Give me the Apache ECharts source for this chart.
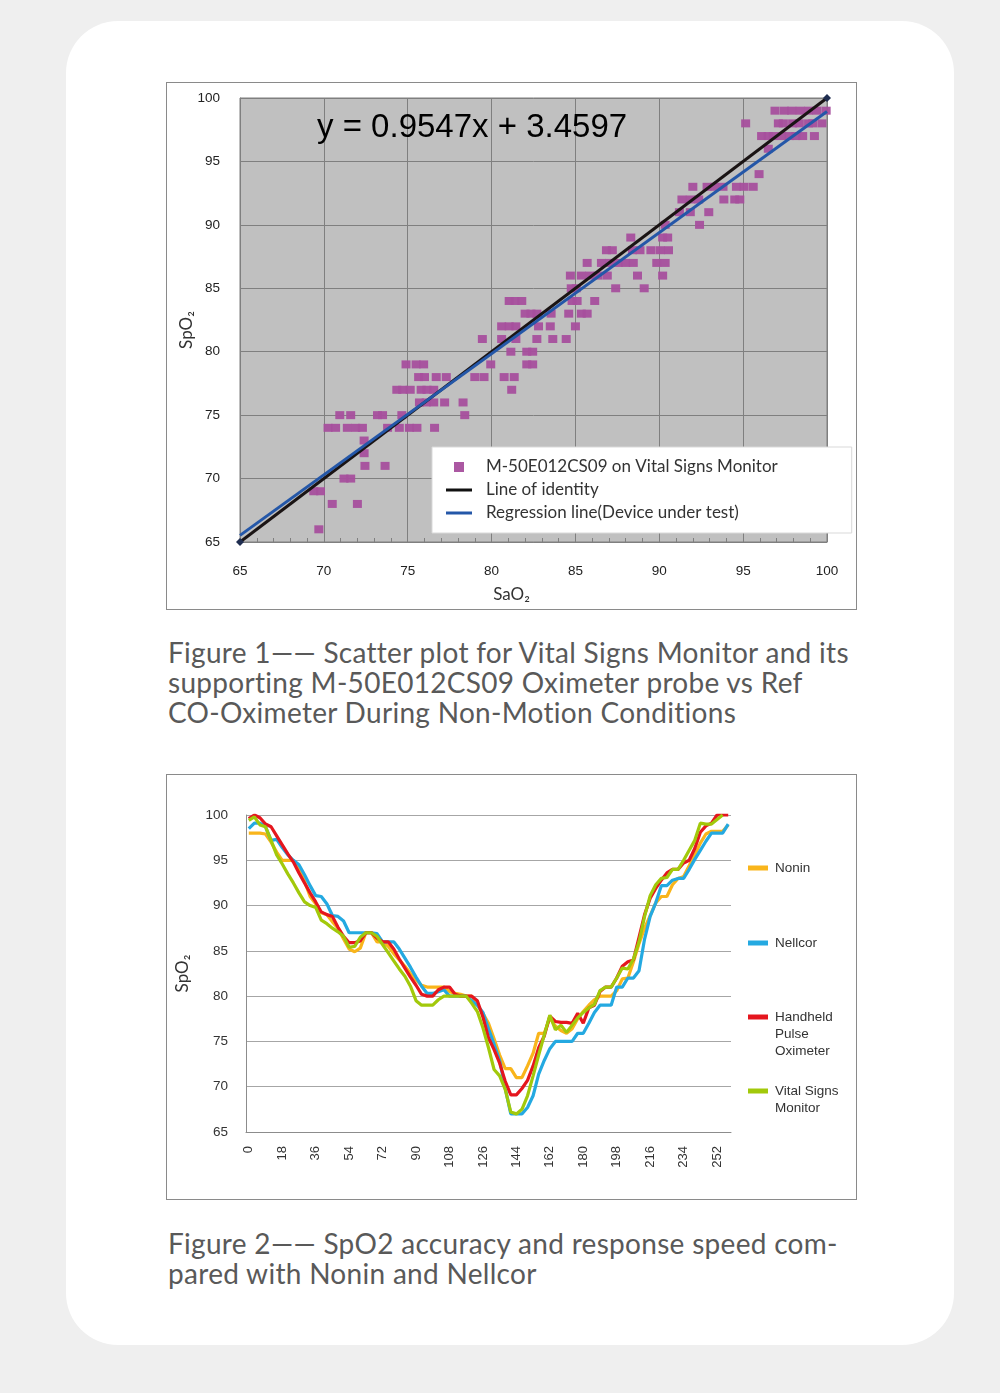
<!DOCTYPE html>
<html><head><meta charset="utf-8">
<script src="https://cdn.jsdelivr.net/npm/echarts@6/dist/echarts.min.js"></script>
<style>
html,body{margin:0;padding:0;background:#efefef;width:1000px;height:1393px;overflow:hidden;}
#card{position:absolute;left:66px;top:21px;width:888px;height:1324px;background:#fff;border-radius:52px;}
.frame{position:absolute;border:1px solid #8a8a8a;background:#fff;}
#f1{left:166px;top:82px;width:689px;height:526px;}
#f2{left:166px;top:774px;width:689px;height:424px;}
.chart{position:absolute;left:0;top:0;width:100%;height:100%;}
.cap{position:absolute;left:168px;font-family:Lato,sans-serif;font-size:28px;letter-spacing:0.3px;line-height:30px;color:#595959;white-space:nowrap;}
</style></head>
<body>
<div id="card"></div>
<div class="frame" id="f1"><div class="chart" id="c1"></div></div>
<div class="cap" id="cap1" style="top:637px">Figure 1—— Scatter plot for Vital Signs Monitor and its<br>supporting M-50E012CS09 Oximeter probe vs Ref<br>CO-Oximeter During Non-Motion Conditions</div>
<div class="frame" id="f2"><div class="chart" id="c2"></div></div>
<div class="cap" id="cap2" style="top:1228px">Figure 2—— SpO2 accuracy and response speed com-<br>pared with Nonin and Nellcor</div>
<script>
// ---------- Figure 1 data ----------
const rowSpO2 = [66, 68, 69, 70, 71, 72, 73, 74, 75, 76, 77, 78, 79, 80, 81, 82, 83, 84, 85, 86, 87, 88, 89, 90, 91, 92, 93, 94, 96, 97, 98, 99];
const rowSaO2 = [
  [69.7],
  [70.5, 72.0],
  [69.4, 69.8],
  [71.2, 71.6],
  [72.45, 73.65],
  [72.4],
  [72.4],
  [70.25, 70.7, 71.4, 71.9, 72.3, 73.8, 74.5, 75.1, 75.55, 76.6],
  [70.95, 71.6, 73.2, 73.5, 74.65, 78.4],
  [75.7, 76.1, 76.55, 77.2, 78.3],
  [74.35, 74.7, 75.15, 75.8, 76.15, 76.55, 81.2],
  [75.65, 76.0, 76.7, 77.3, 79.0, 79.55, 80.75, 81.35],
  [74.9, 75.5, 75.95, 79.95, 82.1, 82.45],
  [81.15, 82.1, 82.45],
  [79.45, 80.6, 81.45, 82.7, 83.65, 84.45],
  [80.6, 81.05, 81.45, 82.8, 83.5, 85.0],
  [82.0, 82.35, 82.7, 83.55, 84.6, 85.35, 85.7],
  [81.05, 81.4, 81.8, 84.8, 85.1, 86.15],
  [84.75, 85.05, 87.4, 89.1],
  [84.7, 85.35, 85.85, 86.35, 86.9, 88.7, 90.2],
  [85.7, 86.55, 87.05, 87.55, 88.0, 88.45, 89.85, 90.35],
  [86.85, 87.2, 88.4, 88.85, 89.5, 90.05, 90.55],
  [88.3, 90.2, 90.5],
  [90.35, 92.4],
  [91.2, 91.85, 92.95],
  [91.35, 91.85, 92.35, 93.85, 94.5, 94.8],
  [92.0, 92.85, 93.3, 93.8, 94.6, 95.05, 95.6],
  [95.95],
  [96.5],
  [96.1, 96.5, 96.8, 97.3, 97.75, 98.15, 98.55, 99.25],
  [95.15, 97.1, 97.4, 97.95, 98.35, 98.9, 99.15, 99.7],
  [96.9, 97.45, 97.9, 98.4, 98.9, 99.4, 99.95]
];
const identityLine = [[65, 65], [100, 100]];
const regressionLine = [[65, 65.52], [100, 98.93]];
const axis1Ticks = [65, 70, 75, 80, 85, 90, 95, 100];
const equationText = 'y = 0.9547x + 3.4597';
const legend1Names = ['M-50E012CS09 on Vital Signs Monitor', 'Line of identity', 'Regression line(Device under test)'];

// ---------- Figure 2 data ----------
const timeCats = [0,3,6,9,12,15,18,21,24,27,30,33,36,39,42,45,48,51,54,57,60,63,66,69,72,75,78,81,84,87,90,93,96,99,102,105,108,111,114,117,120,123,126,129,132,135,138,141,144,147,150,153,156,159,162,165,168,171,174,177,180,183,186,189,192,195,198,201,204,207,210,213,216,219,222,225,228,231,234,237,240,243,246,249,252,255,258];
const nonin = [98,98,98,97.9,97.0,95.9,95,95,95,94.1, 92.7,91,90.2,89.2,89,88.2,87.5,86.3,85.2,84.9, 85.3,87,87,86,86,85.5,84.7,84,83.3,82.5, 81.8,81.2,81,81,81,81,80.5,80.3,80.2,80, 80,79,78.1,77,75.3,73.5,72,72,71,71, 72.3,73.7,75.9,75.9,77.6,76.7,76.2,75.9,76.4,77.5, 78.3,79,79.6,80,80,80,80.6,81.9,82,83.8, 85.8,87.5,88.9,90.3,91,91,92.3,93,93.2,94.4, 95.6,96.9,97.9,98.2,98.2,98.2,98.9];
const nellcor = [98.5,99.1,99.1,98.7,97.2,97.3,96.4,95.6,95,94.5, 93.4,92.2,91.1,91,90.2,88.9,88.8,88.3,87,87, 87,87,87,86.9,86,86,86,85.2,84.2,83.2, 82.1,81.1,80.3,80.3,80.5,80.7,80,80,80,80, 79.5,79,78.2,76.4,74.7,72.9,69.8,67,67,67, 67.7,69,71.4,72.9,74.2,75,75,75,75,75.9, 75.9,77,78.2,79,79,79,81,81,82,82, 82.8,86.3,88.8,90.3,92.2,92.2,92.8,93,93,94, 95.1,96.1,97.1,98,98,98,99];
const handheld = [99.6,100,99.7,99,98.7,97.7,96.7,95.7,94.8,93.6, 92.5,91.4,90.4,89.3,89,88.8,87.6,86.6,85.9,85.9, 86.1,87,87,86.4,86,86,85.2,84.1,83.1,82.1, 81.2,80.2,80,80,80.7,81,81,80.2,80,80, 80,79.5,77.7,75.4,74.1,72.6,70.6,69.1,69.1,69.8, 70.7,72.3,74.3,75.6,77.8,77.2,77.1,77.1,77,78.1, 77.0,78.7,79,80.5,81,81,82,83.3,83.8,84, 86.5,89,90.8,91.9,92.8,93.6,94,94,94.7,95, 96.3,98.1,98.8,99.1,100,100,100];
const vitalSigns = [99.4,99.8,98.9,98.7,97.2,95.6,94.6,93.5,92.5,91.4, 90.4,90,89.8,88.4,88,87.5,87.1,86.6,85.4,85.5, 86.5,87,87,86.6,85.7,84.8,83.9,83,82.2,81.1, 79.5,79,79,79,79.6,80,80,80,80,80, 79.2,78.3,76.5,74.3,71.9,71.2,69.7,67.2,67,67.5, 69,71.2,73.5,75.7,77.9,76.3,76.8,76,76.8,77.6, 78.2,78.7,79.1,80.6,81,81,82,83.1,83,84.1, 86,88.8,91.1,92.3,93,93.1,94,94,95,96.1, 97.2,99.1,99,99,99.5,100,null];
const series2Names = ['Nonin', 'Nellcor', 'Handheld Pulse Oximeter', 'Vital Signs Monitor'];
const series2Colors = ['#f9b51b', '#24a9e1', '#e5161e', '#a2c90b'];

// ---------- Figure 1 chart ----------
const scatterPts = [];
rowSpO2.forEach((y, r) => rowSaO2[r].forEach(x => scatterPts.push([x, y])));

const c1 = echarts.init(document.getElementById('c1'), null, {renderer: 'canvas'});
c1.setOption({
  animation: false,
  textStyle: {fontFamily: 'Liberation Sans'},
  title: {text: equationText, left: 150, top: 28, padding: 0,
    textStyle: {fontSize: 33, fontWeight: 'normal', color: '#000', fontFamily: 'Liberation Sans'}},
  grid: {left: 73, top: 15, width: 587, height: 444, outerBoundsMode: 'none', containLabel: false,
    show: true, backgroundColor: '#c0c0c0', borderColor: '#7f7f7f', borderWidth: 1},
  xAxis: {type: 'value', min: axis1Ticks[0], max: axis1Ticks[axis1Ticks.length - 1], interval: 5,
    axisLine: {lineStyle: {color: '#7f7f7f'}},
    axisTick: {show: true, inside: true, length: 4, lineStyle: {color: '#7f7f7f'}},
    minorTick: {show: true, splitNumber: 5, length: 4, lineStyle: {color: '#7f7f7f'}},
    splitLine: {show: true, lineStyle: {color: '#7f7f7f', width: 1}},
    axisLabel: {fontSize: 13.5, color: '#222', margin: 22},
    name: 'SaO₂', nameLocation: 'middle', nameGap: 44, nameMoveOverlap: false,
    nameTextStyle: {fontFamily: 'Lato', fontSize: 17, color: '#333', padding: [0, 44, 0, 0]}},
  yAxis: {type: 'value', min: axis1Ticks[0], max: axis1Ticks[axis1Ticks.length - 1], interval: 5,
    axisLine: {show: true, lineStyle: {color: '#7f7f7f'}},
    axisTick: {show: false},
    splitLine: {show: true, lineStyle: {color: '#7f7f7f', width: 1}},
    axisLabel: {fontSize: 13.5, color: '#222', margin: 20},
    name: 'SpO₂', nameLocation: 'middle', nameRotate: 90, nameGap: 45, nameMoveOverlap: false,
    nameTextStyle: {fontFamily: 'Lato', fontSize: 17, color: '#333', padding: [0, 20, 0, 0]}},
  legend: {orient: 'vertical', left: 265, top: 364, backgroundColor: '#fff', borderColor: '#d9d9d9', borderWidth: 1,
    padding: [11, 74, 11, 14], itemGap: 5, itemWidth: 26, itemHeight: 10,
    textStyle: {fontFamily: 'Lato', fontSize: 17, color: '#333', lineHeight: 18, padding: [0, 0, 0, 9]},
    data: [
      {name: legend1Names[0], icon: 'path://M0,0h10v10h-10z', itemStyle: {color: '#a64f9d'}},
      {name: legend1Names[1], icon: 'path://M0,0h26v3h-26z', itemStyle: {color: '#111'}},
      {name: legend1Names[2], icon: 'path://M0,0h26v3h-26z', itemStyle: {color: '#2457a8'}}
    ]},
  series: [
    {name: legend1Names[0], type: 'scatter', symbol: 'rect', symbolSize: [9, 8], data: scatterPts,
      itemStyle: {color: '#a64f9d', opacity: 0.95}, z: 2},
    {name: legend1Names[1], type: 'line', data: identityLine, symbol: 'diamond', symbolSize: 8, showSymbol: true,
      itemStyle: {color: '#1f2d50'}, lineStyle: {color: '#1a1414', width: 3}, z: 3},
    {name: legend1Names[2], type: 'line', data: regressionLine, symbol: 'none',
      lineStyle: {color: '#2457a8', width: 3}, z: 4}
  ]
});

// ---------- Figure 2 chart ----------
const series2Data = [nonin, nellcor, handheld, vitalSigns];
const legendLabels = ['Nonin', 'Nellcor', '\n\nHandheld\nPulse\nOximeter', '\nVital Signs\nMonitor'];
const legendTops = [84.5, 159.5, 199.5, 290.5];
const c2 = echarts.init(document.getElementById('c2'), null, {renderer: 'canvas'});
c2.setOption({
  animation: false,
  textStyle: {fontFamily: 'Liberation Sans'},
  grid: {left: 79, top: 40, width: 485, height: 317, outerBoundsMode: 'none', containLabel: false},
  xAxis: {type: 'category', data: timeCats, boundaryGap: true,
    axisLine: {lineStyle: {color: '#8c8c8c'}},
    axisTick: {show: false},
    axisLabel: {rotate: 90, interval: 5, fontSize: 13, color: '#333', margin: 14}},
  yAxis: {type: 'value', min: 65, max: 100, interval: 5,
    axisLine: {show: true, lineStyle: {color: '#8c8c8c'}},
    axisTick: {show: false},
    splitLine: {lineStyle: {color: '#a6a6a6', width: 1}},
    axisLabel: {fontSize: 13.5, color: '#333', margin: 18},
    name: 'SpO₂', nameLocation: 'middle', nameRotate: 90, nameGap: 55, nameMoveOverlap: false,
    nameTextStyle: {fontFamily: 'Lato', fontSize: 17, color: '#333'}},
  legend: series2Names.map((n, k) => ({
    orient: 'vertical', left: 581, top: legendTops[k], padding: 0,
    itemWidth: 20, itemHeight: 5, icon: 'rect',
    data: [n], formatter: () => legendLabels[k],
    textStyle: {fontFamily: 'Liberation Sans', fontSize: 13.5, color: '#333', lineHeight: 17, padding: [0, 0, 0, 2]}
  })),
  series: series2Names.map((n, k) => ({
    name: n, type: 'line', data: series2Data[k], symbol: 'none', showSymbol: false,
    itemStyle: {color: series2Colors[k]},
    lineStyle: {color: series2Colors[k], width: 3.2}
  }))
});
</script>
</body></html>
